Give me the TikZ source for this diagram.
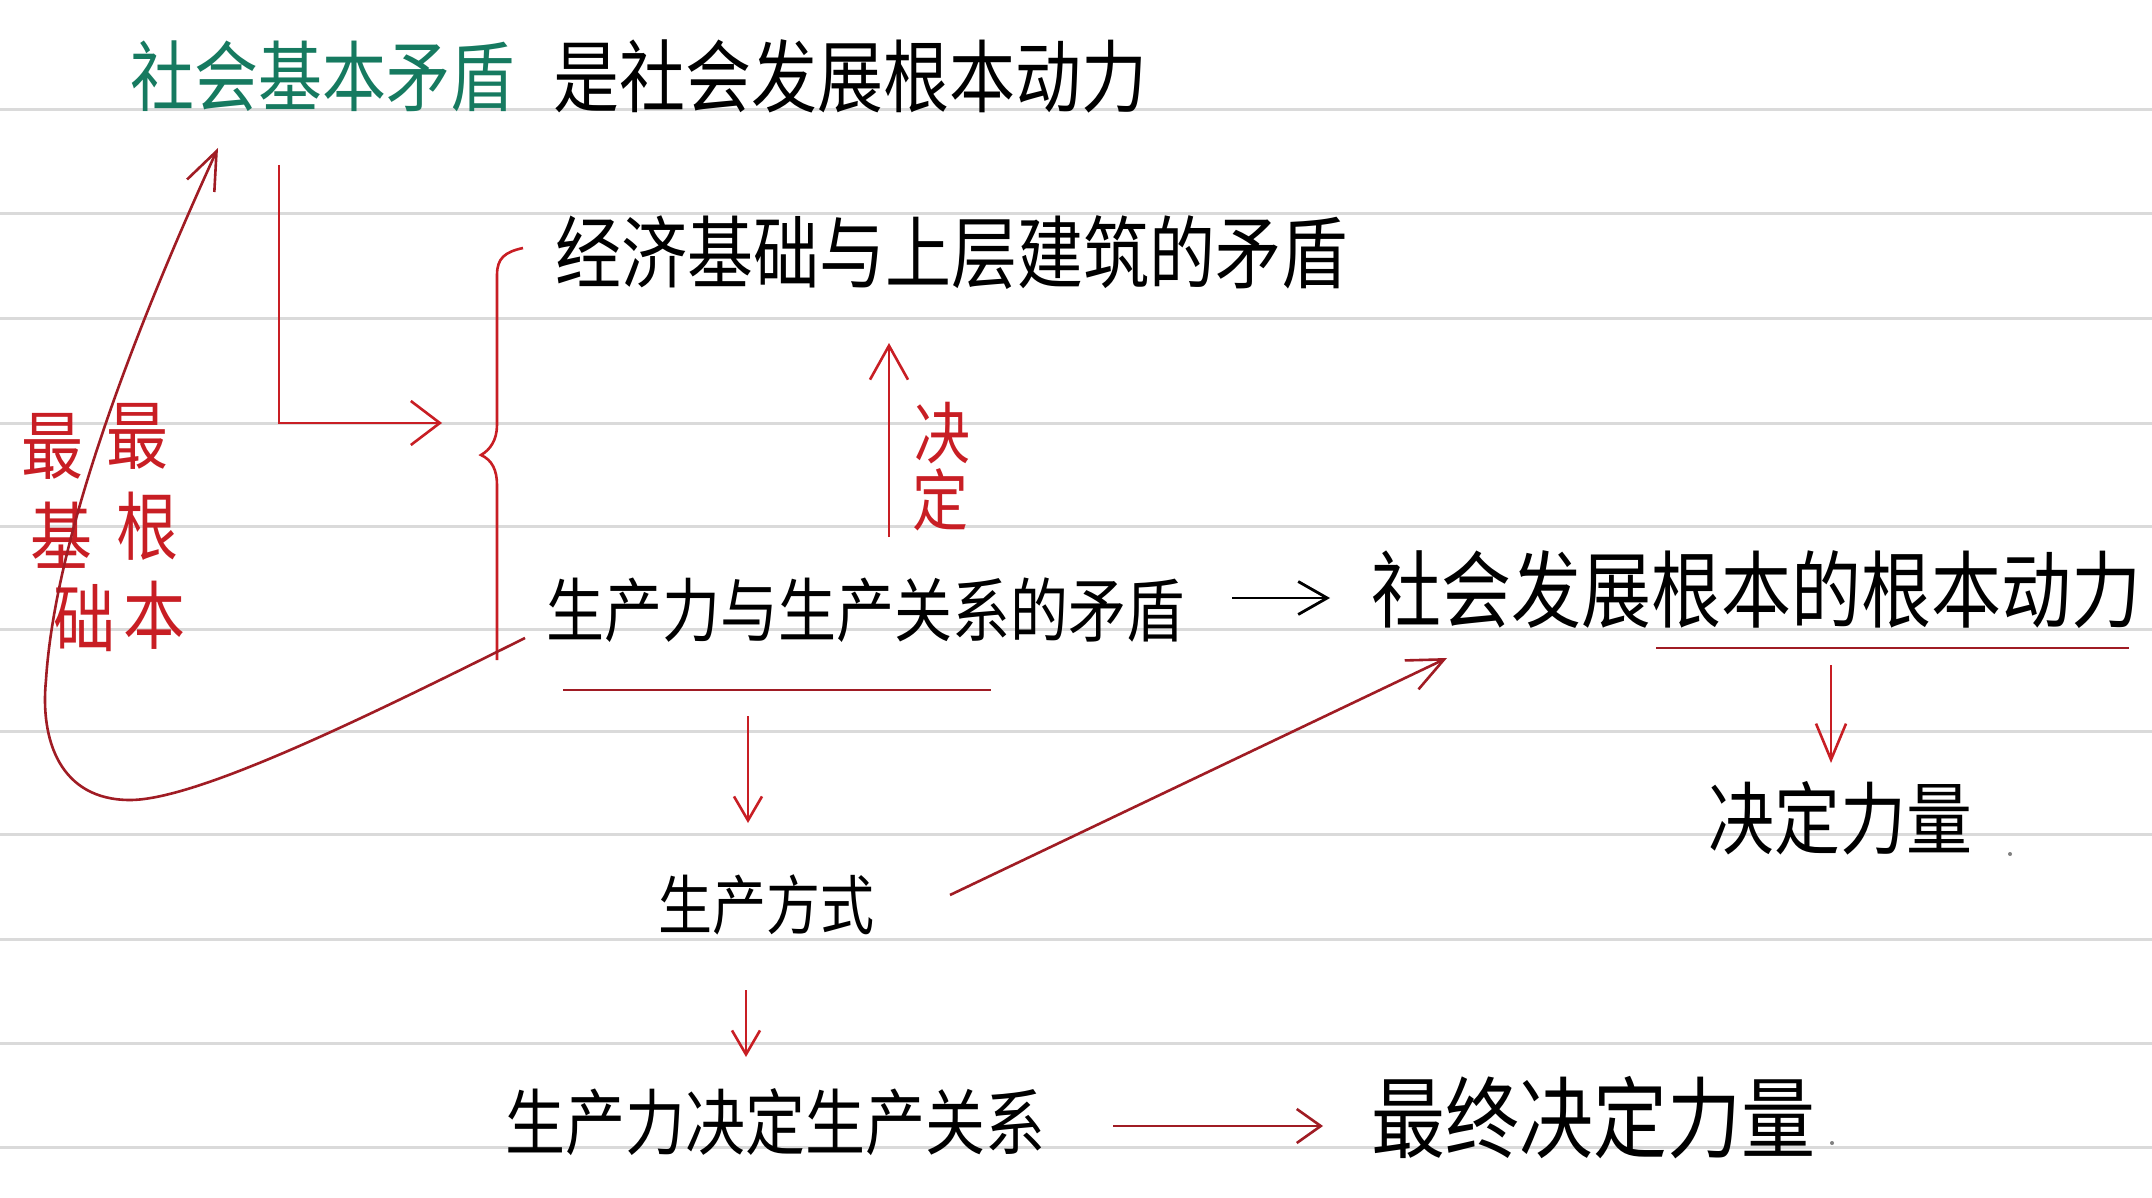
\documentclass[tikz,border=0pt]{standalone}
\usepackage{fontspec}
\newfontfamily\cjk{Noto Sans CJK SC}
\usetikzlibrary{arrows.meta}
\definecolor{inkred}{RGB}{200,30,36}
\definecolor{darkred}{RGB}{160,28,36}
\definecolor{inkgreen}{RGB}{22,122,96}
\definecolor{rulegray}{RGB}{218,218,218}
\newcommand\myfs[1]{\fontsize{#1pt}{#1pt}\selectfont}
\newcommand\tall[1]{\scalebox{1}[1.2]{#1}}
\begin{document}
\begin{tikzpicture}[x=0.5pt,y=-0.5pt,
  txt/.style={inner sep=0pt, anchor=west},
  rl/.style={inkred, line width=1.3pt},
  dl/.style={darkred, line width=1.3pt},
]
\useasboundingbox (0,0) rectangle (2152,1198);
\fill[white] (0,0) rectangle (2152,1198);
\foreach \y in {110,214,318,423,526,629,731,834,939,1043,1147}
  \draw[rulegray, line width=1.5pt] (0,\y) -- (2152,\y);

% text nodes
\node[txt, text=inkgreen, font=\cjk\myfs{32}] (t1) at (130,76) {\tall{社会基本矛盾}};
\node[inner sep=0pt, anchor=east, font=\cjk\myfs{33}] (t2) at (1148,76) {\tall{是社会发展根本动力}};
\node[txt, font=\cjk\myfs{33}] (jj) at (555,253) {\tall{经济基础与上层建筑的矛盾}};
\node[txt, font=\cjk\myfs{29}] (sc) at (546,610) {\tall{生产力与生产关系的矛盾}};
\node[txt, font=\cjk\myfs{35}] (sh) at (1371,590) {\tall{社会发展根本的根本动力}};
\node[txt, font=\cjk\myfs{33}] (jd) at (1708,818) {\tall{决定力量}};
\node[txt, font=\cjk\myfs{27}] (fs) at (658,905) {\tall{生产方式}};
\node[txt, font=\cjk\myfs{30}] (jd2) at (505,1122) {\tall{生产力决定生产关系}};
\node[txt, font=\cjk\myfs{37}] (zz) at (1371,1118) {\tall{最终决定力量}};

% red labels
\begin{scope}[every node/.style={inner sep=0pt, text=inkred, font=\cjk\myfs{31}}]
\node (z1) at (52,446) {\tall{最}};
\node (z2) at (62,535) {\tall{基}};
\node (z3) at (85,618) {\tall{础}};
\node (r1) at (137,436) {\tall{最}};
\node (r2) at (147,526) {\tall{根}};
\node (r3) at (154,615) {\tall{本}};
\node[font=\cjk\myfs{28}] (d1) at (942,433) {\tall{决}};
\node[font=\cjk\myfs{28}] (d2) at (940,500) {\tall{定}};
\end{scope}

% connector end points
\coordinate (Ls) at (279,165);
\coordinate (Le) at (442,423);
\coordinate (Cs) at (525,638);
\coordinate (Ce) at (218,148);
\coordinate (Ds) at (889,537);
\coordinate (De) at (889,343);
\coordinate (Bs) at (1232,598);
\coordinate (Be) at (1330,598);
\coordinate (Rs) at (1831,665);
\coordinate (Re) at (1831,763);
\coordinate (Fs) at (748,716);
\coordinate (Fe) at (748,823);
\coordinate (Gs) at (950,895);
\coordinate (Ge) at (1447,658);
\coordinate (Hs) at (746,990);
\coordinate (He) at (746,1057);
\coordinate (Ks) at (1113,1126);
\coordinate (Ke) at (1323,1126);

% brace
\draw[rl] (523,248) .. controls (505,252) and (497,258) .. (497,275)
  -- (497,425) .. controls (497,440) and (490,450) .. (481,455)
  .. controls (492,460) and (497,470) .. (497,485) -- (497,660);

% underlines
\draw[dl] (563,690) -- (991,690);
\draw[dl] (1656,648) -- (2129,648);

% arrows
\draw[rl, -{Straight Barb[length=14.5pt,width=22pt]}] (Ls) |- (Le);
\draw[dl, -{Straight Barb[length=19pt,width=15pt]}] (Cs)
  .. controls (380,710) and (200,800) .. (130,800)
  .. controls (60,800) and (40,740) .. (46,680)
  .. controls (55,540) and (130,340) .. (Ce);
\draw[rl, -{Straight Barb[length=17pt,width=19pt]}] (Ds) -- (De);
\draw[black, line width=1.4pt, -{Straight Barb[length=14.5pt,width=16.5pt]}] (Bs) -- (Be);
\draw[rl, -{Straight Barb[length=18pt,width=15pt]}] (Rs) -- (Re);
\draw[rl, -{Straight Barb[length=12pt,width=14pt]}] (Fs) -- (Fe);
\draw[dl, -{Straight Barb[length=18pt,width=16pt]}] (Gs) -- (Ge);
\draw[rl, -{Straight Barb[length=12pt,width=14pt]}] (Hs) -- (He);
\draw[dl, -{Straight Barb[length=12pt,width=17pt]}] (Ks) -- (Ke);

% stray dots
\fill[gray] (2010,854) circle (2);
\fill[gray] (1832,1143) circle (2);
\end{tikzpicture}
\end{document}
